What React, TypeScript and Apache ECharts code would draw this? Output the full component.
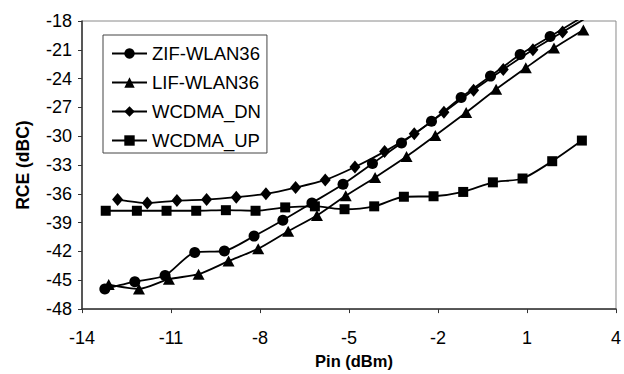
import React, { useEffect, useRef } from "react";
import * as echarts from "echarts";

// Input power sweep (dBm) and measured RCE (dBc) for each receiver configuration
const zifX = [-13.23, -12.22, -11.2, -10.2, -9.2, -8.2, -7.23, -6.25, -5.2, -4.21, -3.23, -2.22, -1.22, -0.23, 0.77, 1.78, 2.78];
const zifY = [-45.9, -45.15, -44.5, -42.1, -41.95, -40.4, -38.75, -36.95, -35.0, -32.85, -30.7, -28.45, -25.97, -23.74, -21.5, -19.62, -17.75];

const lifX = [-13.1, -12.08, -11.07, -10.07, -9.06, -8.06, -7.05, -6.08, -5.11, -4.12, -3.06, -2.09, -1.05, -0.04, 0.96, 1.91, 2.9];
const lifY = [-45.45, -45.9, -44.88, -44.36, -43.0, -41.71, -39.89, -38.26, -36.2, -34.29, -32.12, -29.93, -27.52, -25.11, -22.88, -20.81, -18.93];

const dnX = [-12.8, -11.8, -10.8, -9.8, -8.8, -7.8, -6.8, -5.8, -4.8, -3.8, -2.8, -1.8, -0.8, 0.2, 1.2, 2.2, 3.2];
const dnY = [-36.6, -36.95, -36.7, -36.6, -36.35, -36.0, -35.35, -34.55, -33.2, -31.6, -29.75, -27.5, -25.2, -23.05, -21.0, -19.15, -17.3];

const upX = [-13.2, -12.15, -11.15, -10.15, -9.15, -8.15, -7.15, -6.15, -5.15, -4.15, -3.15, -2.15, -1.15, -0.15, 0.85, 1.85, 2.85];
const upY = [-37.76, -37.76, -37.76, -37.76, -37.7, -37.76, -37.41, -37.3, -37.6, -37.3, -36.3, -36.25, -35.8, -34.8, -34.4, -32.6, -30.45];

const seriesNames = ["ZIF-WLAN36", "LIF-WLAN36", "WCDMA_DN", "WCDMA_UP"];
const xTicks = { min: -14, max: 4, step: 3 };
const yTicks = { min: -48, max: -18, step: 3 };

const FONT = "'Liberation Sans', Arial, sans-serif";

const pairs = (xs: number[], ys: number[]) => xs.map((x, i) => [x, ys[i]]);

export default function App() {
  const ref = useRef<HTMLDivElement>(null);

  useEffect(() => {
    if (!ref.current) return;
    const chart = echarts.init(ref.current, undefined, { renderer: "svg" });

    const lineSeries = (name: string, data: number[][], symbol: string, size: number | number[]) => ({
      name,
      type: "line",
      data,
      symbol,
      symbolSize: size,
      smooth: 0.25,
      clip: true,
      color: "#000",
      lineStyle: { color: "#000", width: 1.8 },
      itemStyle: { color: "#000" },
    });

    chart.setOption({
      animation: false,
      backgroundColor: "#fff",
      textStyle: { fontFamily: FONT },
      grid: {
        left: 82,
        top: 21,
        right: 4,
        bottom: 61,
        show: true,
        borderColor: "#8a8a8a",
        borderWidth: 1,
      },
      legend: {
        orient: "vertical",
        left: 103,
        top: 35,
        padding: [9, 6, 3, 8],
        itemWidth: 35,
        itemHeight: 13,
        itemGap: 10,
        borderColor: "#444",
        borderWidth: 1,
        backgroundColor: "#fff",
        textStyle: { fontSize: 18.5, color: "#000", fontFamily: FONT },
        data: seriesNames,
      },
      xAxis: {
        type: "value",
        min: xTicks.min,
        max: xTicks.max,
        interval: xTicks.step,
        name: "Pin (dBm)",
        nameLocation: "middle",
        nameGap: 41,
        nameTextStyle: { fontSize: 16.5, fontWeight: "bold", color: "#000", padding: [0, 0, 0, 10] },
        axisLine: { onZero: false, lineStyle: { color: "#333", width: 1.5 } },
        axisTick: { show: true, length: 4, lineStyle: { color: "#333" } },
        axisLabel: { fontSize: 18, color: "#000", margin: 20 },
        splitLine: { show: false },
      },
      yAxis: {
        type: "value",
        min: yTicks.min,
        max: yTicks.max,
        interval: yTicks.step,
        name: "RCE (dBC)",
        nameLocation: "middle",
        nameRotate: 90,
        nameGap: 50,
        nameTextStyle: { fontSize: 17.5, fontWeight: "bold", color: "#000" },
        axisLine: { show: true, onZero: false, lineStyle: { color: "#333", width: 1.5 } },
        axisTick: { show: true, length: 4, lineStyle: { color: "#333" } },
        axisLabel: { fontSize: 18, color: "#000", margin: 10 },
        splitLine: { show: false },
      },
      series: [
        lineSeries(seriesNames[0], pairs(zifX, zifY), "circle", 11),
        lineSeries(seriesNames[1], pairs(lifX, lifY), "triangle", [12, 11]),
        lineSeries(seriesNames[2], pairs(dnX, dnY), "diamond", [11, 13]),
        lineSeries(seriesNames[3], pairs(upX, upY), "rect", 10),
      ],
    });

    return () => chart.dispose();
  }, []);

  return <div ref={ref} style={{ width: 624, height: 374, position: "absolute", left: 0, top: 0 }} />;
}
